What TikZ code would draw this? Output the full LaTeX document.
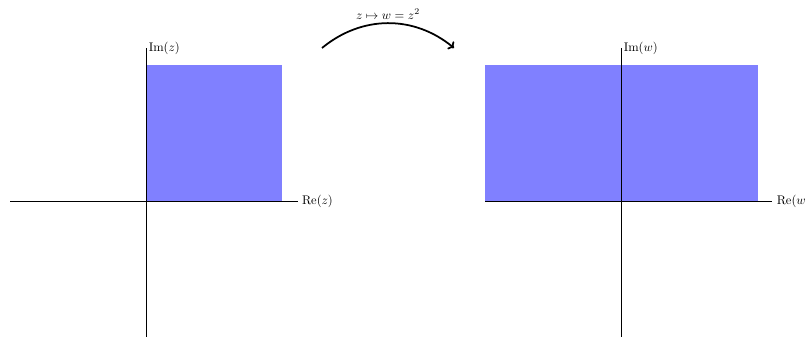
\documentclass[tikz,border=0pt]{standalone}
\usetikzlibrary{arrows.meta}
\begin{document}
\begin{tikzpicture}[x=0.8pt,y=-0.8pt,
  region/.style={fill=blue!50,draw=none},
  axis/.style={line width=0.5pt},
  axlabel/.style={anchor=west,inner sep=2pt},
  maparrow/.style={line width=1.4pt,-{To[length=4pt,width=8pt]}}]
\useasboundingbox (0,0) rectangle (806,336);
% left plane
\fill[region] (146,65) rectangle (282,201);
\coordinate (xl1) at (10,201);
\coordinate (xl2) at (298,201);
\coordinate (yl1) at (146,338);
\coordinate (yl2) at (146,48);
\draw[axis] (xl1) -- (xl2);
\draw[axis] (yl1) -- (yl2);
\node[axlabel,inner sep=3pt] (rez) at (xl2) {Re$(z)$};
\node[axlabel] (imz) at (yl2) {Im$(z)$};
% right plane
\fill[region] (485,65) rectangle (758,201);
\coordinate (xr1) at (485,201);
\coordinate (xr2) at (772,201);
\coordinate (yr1) at (621,338);
\coordinate (yr2) at (621,48);
\draw[axis] (xr1) -- (xr2);
\draw[axis] (yr1) -- (yr2);
\node[axlabel,inner sep=3pt,xshift=0.6pt] (rew) at (xr2) {Re$(w)$};
\node[axlabel] (imw) at (yr2) {Im$(w)$};
% map arrow
\coordinate (a1) at (322,48);
\coordinate (a2) at (454,48);
\draw[maparrow] (a1) .. controls (362,15) and (414,15) .. (a2);
\node (lab) at (388,14) {$z\mapsto w=z^2$};
\end{tikzpicture}
\end{document}
